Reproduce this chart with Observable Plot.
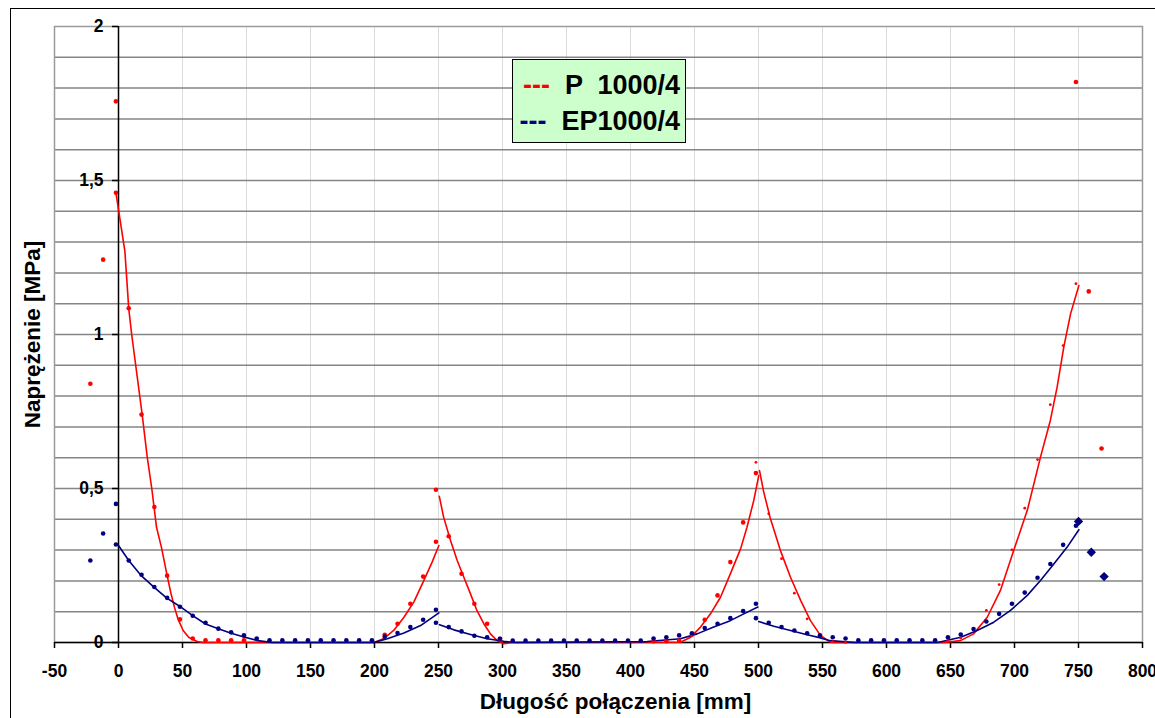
<!DOCTYPE html>
<html>
<head>
<meta charset="utf-8">
<script src="https://cdn.jsdelivr.net/npm/d3@7"></script>
<script src="https://cdn.jsdelivr.net/npm/@observablehq/plot@0.6"></script>
<style>
  html, body { margin: 0; padding: 0; background: #fff; overflow: hidden; }
  #wrap { position: relative; width: 1155px; height: 718px; }
  #chart svg { display: block; }
  #border { position: absolute; left: 10px; top: 8px; width: 1200px; height: 800px; border: 1px solid #000; pointer-events: none; }
  #legend { position: absolute; left: 512px; top: 59px; width: 167px; height: 75px; padding: 7px 5px 0 0;
    background: #ccffcc; border: 1px solid #000; font-family: "Liberation Sans", Arial, sans-serif;
    font-weight: bold; font-size: 27px; line-height: 36px; text-align: right; white-space: pre; color: #000; }
  #legend .r { color: #ff0000; }
  #legend .b { color: #000080; }
</style>
</head>
<body>
<div id="wrap">
  <div id="chart"></div>
  <div id="legend"><div><span class="r">---</span>  P  1000/4</div><div><span class="b">---</span>  EP1000/4</div></div>
  <div id="border"></div>
</div>
<script>
// ---- axis ticks ----
const xTicks = [-50, 0, 50, 100, 150, 200, 250, 300, 350, 400, 450, 500, 550, 600, 650, 700, 750, 800];
const yTicks = [0, 0.5, 1, 1.5, 2];
const yTickLabels = ["0", "0,5", "1", "1,5", "2"];
const yGrid = [0.1, 0.2, 0.3, 0.4, 0.5, 0.6, 0.7, 0.8, 0.9, 1.0, 1.1, 1.2, 1.3, 1.4, 1.5, 1.6, 1.7, 1.8, 1.9];

// ---- series: P 1000/4 (red) ----
const redDotsBig = [[-22,0.84],[-12,1.243],[-2,1.757],[-2,1.46],[8,1.085],[18,0.74],[28,0.44],[38,0.217],[48,0.075],[58,0.013],
  [68,0.007],[78,0.007],[88,0.007],[98,0.007],
  [208,0.025],[218,0.061],[228,0.126],[238,0.214],[248,0.327],[248,0.496],[258,0.345],[268,0.223],[278,0.126],[288,0.061],[298,0.012],
  [418,0.004],[428,0.004],[438,0.006],[448,0.025],[458,0.074],[468,0.153],[478,0.261],[488,0.39],[498,0.55],
  [748,1.82],[758,1.14],[768,0.63]];
const redDotsSmall = [[498,0.585],[508,0.418],[518,0.272],[528,0.16],[538,0.077],[548,0.022],[558,0.003],[568,0.0],
  [648,0.006],[658,0.015],[668,0.042],[678,0.104],[688,0.188],[698,0.301],[708,0.436],[718,0.594],[728,0.772],[738,0.964],[748,1.165]];
const redLineA = [[-2,1.46],[5,1.27],[8,1.084],[10.3,1.0],[18.5,0.74],[22.5,0.6],[26,0.5],[29.7,0.374],[33.6,0.308],[38,0.217],
  [41,0.159],[43.75,0.114],[46.6,0.075],[50.5,0.039],[55,0.016],[61.5,0.003],[66,0],[199.5,0],[207,0.012],[215,0.039],[223,0.082],
  [230.7,0.131],[238.5,0.201],[245,0.261],[250.3,0.315]];
const redLineB = [[250.6,0.475],[254,0.407],[259.4,0.331],[264.6,0.266],[269.8,0.212],[275,0.158],[280,0.104],[285.4,0.061],
  [290.6,0.028],[295.9,0.006],[301,-0.004],[306,-0.001],[310,0],[439,0.001],[447,0.017],[454.7,0.05],[462.5,0.093],[470.3,0.147],
  [478,0.223],[486,0.304],[491,0.374],[496.3,0.461],[500.2,0.542]];
const redLineC = [[500.8,0.558],[504,0.49],[509,0.407],[517,0.3],[525,0.212],[533,0.136],[540.6,0.071],[548.4,0.023],[556,0.001],
  [558,0],[645,0],[657.8,0.006],[668,0.028],[678.7,0.082],[689,0.169],[699.5,0.3],[710,0.429],[720.3,0.602],[728,0.721],
  [733.3,0.829],[738.5,0.959],[743.8,1.067],[750.3,1.159]];

// ---- series: EP1000/4 (navy) ----
const blueDots = [[-22,0.266],[-12,0.354],[-2,0.45],[-2,0.318],[8,0.266],[18,0.22],[28,0.18],[38,0.145],[48,0.116],[58,0.087],
  [68,0.064],[78,0.045],[88,0.033],[98,0.023],[108,0.013],[118,0.007],[128,0.007],[138,0.007],[148,0.007],[158,0.007],[168,0.007],
  [178,0.007],[188,0.007],[198,0.007],[208,0.019],[218,0.031],[228,0.05],[238,0.074],[248,0.106],[248,0.064],[258,0.05],[268,0.036],
  [278,0.022],[288,0.017],[298,0.012],[308,0.006],[318,0.006],[328,0.006],[338,0.006],[348,0.006],[358,0.006],[368,0.006],[378,0.006],
  [388,0.006],[398,0.006],[408,0.006],[418,0.013],[428,0.017],[438,0.023],[448,0.03],[458,0.047],[468,0.061],[478,0.079],[488,0.102],
  [498,0.126],[498,0.079],[508,0.064],[518,0.05],[528,0.039],[538,0.03],[548,0.023],[558,0.017],[568,0.013],[578,0.007],[588,0.007],
  [598,0.007],[608,0.007],[618,0.007],[628,0.007],[638,0.007],[648,0.017],[658,0.026],[668,0.044],[678,0.068],[688,0.093],[698,0.126],
  [708,0.162],[718,0.21],[728,0.255],[738,0.317],[748,0.379]];
const blueDiamonds = [[750,0.393],[760,0.293],[770,0.214]];
const blueLineA = [[0,0.315],[8,0.266],[17.5,0.218],[27.7,0.18],[37.5,0.145],[48,0.117],[58,0.087],[68,0.06],[78,0.045],[88,0.03],
  [98,0.018],[109,0.006],[120,0],[199.5,0],[210,0.012],[223,0.031],[236,0.055],[250.3,0.096]];
const blueLineB = [[250.8,0.058],[262,0.041],[275,0.026],[288,0.012],[301,0.004],[310,0],[413,0.003],[439,0.012],[452,0.028],
  [465,0.05],[478,0.071],[488.5,0.093],[499.5,0.115]];
const blueLineC = [[500.2,0.068],[512,0.053],[525,0.039],[538,0.025],[548.4,0.015],[556,0.006],[568,0.002],[575,0],[640,0],
  [658,0.017],[670.8,0.039],[683.8,0.066],[696.9,0.104],[710,0.153],[720.3,0.201],[730.7,0.255],[741,0.309],[750.3,0.366]];

const RED = "#ff0000", NAVY = "#000080";
const X = d => d[0], Y = d => d[1];

const lineMarks = (arr, stroke) => Plot.line(arr, {x: X, y: Y, stroke, strokeWidth: 1.6});

const chart = Plot.plot({
  width: 1155,
  height: 718,
  marginLeft: 54,
  marginRight: 13,
  marginTop: 26,
  marginBottom: 76,
  style: {fontFamily: "'Liberation Sans', Arial, sans-serif", fontWeight: "bold", background: "white", color: "black"},
  x: {domain: [-50, 800], label: null, axis: null},
  y: {domain: [0, 2], label: null, axis: null},
  marks: [
    Plot.ruleX(xTicks, {stroke: "#dcdcdc", strokeWidth: 1}),
    Plot.ruleY(yGrid, {stroke: "#858585", strokeWidth: 1.5}),
    Plot.frame({stroke: "#9a9a9a", strokeWidth: 1.5}),
    Plot.axisX(xTicks, {anchor: "bottom", tickSize: 6, tickPadding: 16, fontSize: 17.5, fontWeight: "bold", tickFormat: d => String(d), label: null, stroke: "black", strokeWidth: 1.5}),
    Plot.ruleY([0], {stroke: "black", strokeWidth: 1.5}),
    Plot.ruleX([0], {stroke: "black", strokeWidth: 1.5}),
    Plot.ruleY(yTicks, {x1: 0, x2: 0, insetLeft: -6, stroke: "black", strokeWidth: 1.5}),
    Plot.text(yTicks, {x: 0, y: d => d, text: (d, i) => yTickLabels[i], textAnchor: "end", dx: -15, fontSize: 17.5, fontWeight: "bold", fill: "black"}),
    Plot.text(["Długość połączenia [mm]"], {frameAnchor: "bottom", textAnchor: "middle", lineAnchor: "middle", dx: 17, dy: 59, fontSize: 22.5, fontWeight: "bold", fill: "black"}),
    Plot.text(["Naprężenie [MPa]"], {frameAnchor: "left", rotate: -90, textAnchor: "middle", lineAnchor: "middle", dx: -22, fontSize: 22.5, fontWeight: "bold", fill: "black"}),
    lineMarks(redLineA, RED), lineMarks(redLineB, RED), lineMarks(redLineC, RED),
    lineMarks(blueLineA, NAVY), lineMarks(blueLineB, NAVY), lineMarks(blueLineC, NAVY),
    Plot.dot(redDotsBig, {x: X, y: Y, r: 2.3, fill: RED, stroke: "none"}),
    Plot.dot(redDotsSmall, {x: X, y: Y, r: 1.4, fill: RED, stroke: "none"}),
    Plot.dot(blueDots, {x: X, y: Y, r: 2.3, fill: NAVY, stroke: "none"}),
    Plot.dot(blueDiamonds, {x: X, y: Y, r: 4.2, symbol: "diamond2", fill: NAVY, stroke: "none"})
  ]
});
document.getElementById("chart").appendChild(chart);
</script>
</body>
</html>
